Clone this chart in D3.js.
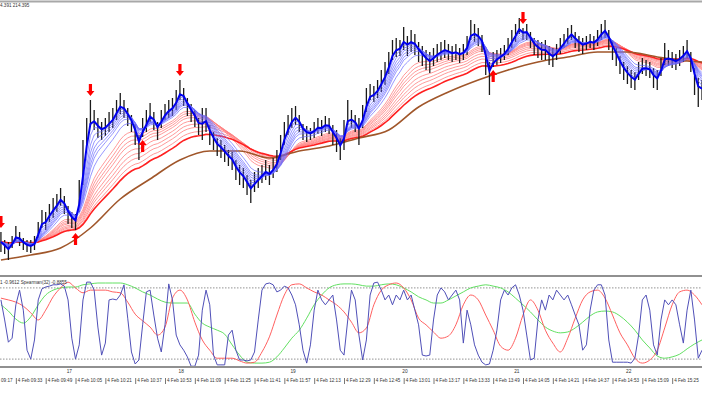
<!DOCTYPE html>
<html>
<head>
<meta charset="utf-8">
<script src="https://cdn.jsdelivr.net/npm/d3@7"></script>
<style>
body { margin: 0; background: #fff; }
svg { display: block; font-family: "Liberation Sans", Arial, sans-serif; }
</style>
</head>
<body>
<svg id="chart" width="702" height="395"></svg>
<script>
// 2-minute bars, 4 Feb, starting 09:25 (price in chart units)
var barStart = "09:25";
var barStep = 2;
var highs = [42,34,32,38,48,42,36,34,34,38, 52,64,62,70,76,80,86,78,68,62,
  60,94,134,156,174,164,156,152,156,162, 166,174,181,174,166,159,150,139,156,164,
  171,162,152,164,170,174,176,184,194,186, 176,170,164,156,166,166,149,142,136,134,
  129,124,122,114,109,106,99,94,102,106, 109,114,109,116,124,139,152,159,166,168,
  159,150,148,146,152,156,154,158,156,149, 144,136,154,174,164,159,156,169,186,190,
  188,194,204,212,222,234,236,234,247,238, 244,240,232,228,224,222,226,230,232,234,
  230,228,230,226,230,238,254,250,246,239, 224,212,222,224,226,229,236,244,250,256,
  246,250,242,236,234,232,234,228,226,230, 236,240,246,249,242,238,236,238,240,238,
  244,250,254,244,234,226,218,212,208,204, 202,212,216,214,212,206,204,216,231,224,
  222,220,224,228,234,222,206,196,194];
var lows = [22,20,14,26,32,28,24,22,21,24, 36,46,44,52,56,62,68,60,50,46,
  44,62,89,129,149,144,136,134,138,142, 146,154,160,156,148,142,129,114,137,142,
  152,144,134,146,154,156,158,164,174,168, 158,152,147,139,134,142,129,124,118,116,
  112,108,104,94,89,86,79,71,82,86, 91,94,89,96,102,114,129,139,146,149,
  142,134,132,134,136,140,138,142,140,129, 122,114,124,149,146,142,129,146,162,174,
  172,176,182,189,200,214,217,218,224,218, 222,219,212,208,204,201,208,212,214,216,
  214,212,214,211,214,219,234,232,228,222, 199,179,207,209,211,214,219,226,232,240,
  234,234,226,219,216,214,214,209,207,214, 220,226,230,234,226,222,220,224,226,224,
  228,234,236,224,214,208,200,194,190,186, 184,194,200,198,196,186,184,198,209,208,
  206,204,208,212,216,202,179,167,174];

// long moving average (brown), read at every 8th bar
var brownIdx = [0,8,16,24,32,40,48,56,64,72,80,88,96,104,112,120,128,136,144,152,160,168,176,184,188];
var brownVals = [14,19,26,46,75,95,114,123,123,116,123,128,136,144,167,182,194,204,212,217,222,222,217,213,212];

var fastPeriods = [3,4,5,6,7,8,10];
var slowPeriods = [14,16,18,20,23,26,29,33,37];

var downArrows = [0,24,48,140];
var upArrows = [20,38,132];

// oscillator: blue every bar, red / green every 2nd bar
var blueOsc = [.53,.08,-.42,-.33,.42,.75,.30,-.6,-.8,-.37,
  .53,.78,.82,.84,.87,.87,.89,.84,.53,-.33, -.8,-.48,.53,.93,.93,.75,-.08,-.71,-.44,.53,
  .55,.53,.64,.87,.12,-.64,-.91,-.82,-.03,.71, .75,.19,-.33,-.64,-.03,.89,.53,-.26,-.48,-.6,
  -.75,-.96,-.96,-.71,.30,.75,.42,-.71,-.93,-.93, -.93,-.26,-.15,-.6,-.82,-.82,-.84,-.82,-.64,.08,
  .75,.89,.91,.87,.71,.75,.84,.8,.64,.42, -.03,-.6,-.89,-.48,.30,.75,.53,.42,.53,.64,
  .08,-.6,-.71,.08,.75,.53,-.26,-.82,-.37,.64, .91,.93,.75,.53,.64,.42,.64,.53,.75,.53,
  .64,.30,-.03,-.71,-.73,-.71,.08,.64,.8,.71, .53,.64,.75,.53,-.44,.30,-.03,-.48,-.71,-.87,
  -.93,-.91,-.6,-.15,.53,.75,.64,.8,.87,.64, .30,-.26,-.82,-.78,.08,.53,.30,.64,.53,.75,
  .64,.53,.64,.42,.19,-.03,-.6,-.48,.30,.75, .87,.87,.64,-.37,-.87,-.87,-.87,-.87,-.87,-.89,
  -.78,-.26,.53,.64,.30,-.48,-.71,.08,.53,.42, .53,.42,-.03,-.44,.30,.75,.08,-.78,-.6];
var redOsc = [.57,.53,.48,.39,.24,.08,.30,.60,.80,.93, .80,.69,.75,.75,.75,.71,.69,.48,.21,.06,
  -.08,-.26,-.08,.57,.75,.53,.03,-.37,-.6,-.78, -.78,-.78,-.84,-.89,-.87,-.64,-.30,.19,.64,.87,
  .89,.80,.71,.64,.53,.42,.26,.03,-.21,-.10, .42,.75,.87,.91,.80,.53,.12,-.03,-.19,-.33,
  -.28,-.03,.42,.64,.53,.19,-.15,-.51,-.6,-.33, .19,.53,.30,-.15,-.44,-.64,-.33,.12,.53,.71,
  .75,.57,.19,-.21,-.48,-.78,-.89,-.82,-.6,-.10, .42,.71,.75,.64,.42];
var greenOsc = [.42,.28,.10,.01,.15,.42,.64,.75,.80,.82, .82,.87,.89,.91,.91,.91,.91,.87,.80,.71,
  .64,.55,.48,.46,.46,.46,.21,.01,-.08,-.15, -.24,-.48,-.71,-.87,-.89,-.89,-.87,-.75,-.55,-.33,
  -.15,.12,.42,.64,.80,.87,.89,.89,.87,.84, .84,.87,.89,.87,.80,.71,.60,.53,.46,.46,
  .53,.62,.71,.80,.84,.87,.84,.80,.71,.57, .42,.26,.08,-.08,-.17,-.21,-.19,-.10,.03,.17,
  .26,.28,.26,.17,.03,-.15,-.37,-.55,-.73,-.78, -.75,-.69,-.57,-.46,-.37];
var oscLevels = [0.8, -0.8];

var timeTicks = ["09:17","09:33","09:49","10:05","10:21","10:37","10:53","11:09","11:25","11:41",
  "11:57","12:13","12:29","12:45","13:01","13:17","13:33","13:49","14:05","14:21","14:37",
  "14:53","15:09","15:25"];
var hourTimes = ["10:00","11:00","12:00","13:00","14:00","15:00"];
var hourLabels = ["17","18","19","20","21","22"];

var header = "4.391 214.395";
var oscHeader = "1 -0.9612  Spearman(32) -0.8855";

function tm(s) {
  var p = s.split(":");
  return new Date(2025, 1, 4, +p[0], +p[1], +(p[2] || 0));
}
function barTime(i) {
  return new Date(tm(barStart).getTime() + i * barStep * 60000);
}
function ema(src, n) {
  var a = 2 / (n + 1), v = src[0];
  return src.map(function(p) { v = v + a * (p - v); return v; });
}

var W = 702;
var svg = d3.select("#chart");

var x = d3.scaleTime().domain([tm("09:24:30"), tm("15:41:00")]).range([0, W]);
var y = d3.scaleLinear().domain([0, 271]).range([274, 3]);
var yo = d3.scaleLinear().domain([-1, 1]).range([368, 279]);

svg.append("defs").append("clipPath").attr("id", "mainClip")
  .append("rect").attr("x", 0).attr("y", 3).attr("width", W).attr("height", 271);
svg.append("defs").append("clipPath").attr("id", "oscClip")
  .append("rect").attr("x", 0).attr("y", 278).attr("width", W).attr("height", 88);

var mid = highs.map(function(h, i) { return (h + lows[i]) / 2; });

var main = svg.append("g").attr("clip-path", "url(#mainClip)");
var priceLine = d3.line()
  .x(function(d, i) { return x(barTime(i)); })
  .y(function(d) { return y(d); });

// slow (red) fan
slowPeriods.forEach(function(n, k) {
  var last = k === slowPeriods.length - 1;
  main.append("path").datum(ema(mid, n))
    .attr("fill", "none")
    .attr("stroke", last ? "#ff2020" : "#ff8080")
    .attr("stroke-width", last ? 1.6 : 0.8)
    .attr("d", priceLine);
});

// brown long MA
main.append("path").datum(brownIdx)
  .attr("fill", "none").attr("stroke", "#a0562a").attr("stroke-width", 1.6)
  .attr("d", d3.line()
    .x(function(d) { return x(barTime(d)); })
    .y(function(d, i) { return y(brownVals[i]); })
    .curve(d3.curveMonotoneX));

// price bars
main.selectAll("line.bar").data(highs).enter().append("line")
  .attr("class", "bar")
  .attr("x1", function(d, i) { return x(barTime(i)); })
  .attr("x2", function(d, i) { return x(barTime(i)); })
  .attr("y1", function(d) { return y(d); })
  .attr("y2", function(d, i) { return y(lows[i]); })
  .attr("stroke", "#1a1a1a").attr("stroke-width", 1.3);

// fast (blue) fan
fastPeriods.forEach(function(n) {
  main.append("path").datum(ema(mid, n))
    .attr("fill", "none").attr("stroke", "#6a6aff").attr("stroke-width", 0.7)
    .attr("d", priceLine);
});
main.append("path").datum(ema(mid, 2))
  .attr("fill", "none").attr("stroke", "#0000ee").attr("stroke-width", 2)
  .attr("d", priceLine);

// signal arrows
function arrow(cx, tip, dir) {
  var p = d3.path();
  p.moveTo(cx, tip);
  p.lineTo(cx - 4, tip - 5 * dir);
  p.lineTo(cx - 1.6, tip - 5 * dir);
  p.lineTo(cx - 1.6, tip - 12 * dir);
  p.lineTo(cx + 1.6, tip - 12 * dir);
  p.lineTo(cx + 1.6, tip - 5 * dir);
  p.lineTo(cx + 4, tip - 5 * dir);
  p.closePath();
  return p.toString();
}
main.selectAll("path.dn").data(downArrows).enter().append("path")
  .attr("class", "dn").attr("fill", "#ff0000")
  .attr("d", function(i) { return arrow(x(barTime(i)), y(highs[i]) - 4, 1); });
main.selectAll("path.up").data(upArrows).enter().append("path")
  .attr("class", "up").attr("fill", "#ff0000")
  .attr("d", function(i) { return arrow(x(barTime(i)), y(lows[i]) + 3, -1); });

// panel frames
svg.append("line").attr("x1", 0).attr("x2", W).attr("y1", 1.5).attr("y2", 1.5)
  .attr("stroke", "#a8a8a8").attr("stroke-width", 2);
svg.append("line").attr("x1", 0).attr("x2", W).attr("y1", 276).attr("y2", 276)
  .attr("stroke", "#909090").attr("stroke-width", 2);
svg.append("line").attr("x1", 0).attr("x2", W).attr("y1", 367).attr("y2", 367)
  .attr("stroke", "#909090").attr("stroke-width", 2);

svg.append("text").attr("x", 0).attr("y", 7).attr("font-size", 4.6).attr("fill", "#333").text(header);

// oscillator panel
var osc = svg.append("g").attr("clip-path", "url(#oscClip)");
osc.selectAll("line.lvl").data(oscLevels).enter().append("line")
  .attr("x1", 0).attr("x2", W)
  .attr("y1", function(d) { return yo(d); }).attr("y2", function(d) { return yo(d); })
  .attr("stroke", "#777").attr("stroke-width", 0.8).attr("stroke-dasharray", "1.5,1.5");

var every2 = d3.line()
  .x(function(d, k) { return x(barTime(k * 2)); })
  .y(function(d) { return yo(d); })
  .curve(d3.curveMonotoneX);
osc.append("path").datum(greenOsc).attr("fill", "none")
  .attr("stroke", "#62e062").attr("stroke-width", 1).attr("d", every2);
osc.append("path").datum(redOsc).attr("fill", "none")
  .attr("stroke", "#ff6060").attr("stroke-width", 1).attr("d", every2);
osc.append("path").datum(blueOsc).attr("fill", "none")
  .attr("stroke", "#5050b8").attr("stroke-width", 1)
  .attr("d", d3.line()
    .x(function(d, i) { return x(barTime(i)); })
    .y(function(d) { return yo(d); }));

svg.append("text").attr("x", 0).attr("y", 284).attr("font-size", 4.6).attr("fill", "#333").text(oscHeader);

// hour row
var hourAxis = d3.axisBottom(x)
  .tickValues(hourTimes.map(tm))
  .tickSize(0)
  .tickFormat(function(d, i) { return hourLabels[i]; });
var hg = svg.append("g").attr("transform", "translate(0,368)").call(hourAxis);
hg.select(".domain").remove();
hg.selectAll("text").attr("font-size", 4.8).attr("fill", "#333")
  .attr("text-anchor", "start").attr("x", 0).attr("y", 2).attr("dy", "0.71em");

// time row (first label runs off the left edge, as in the original)
var timeAxis = d3.axisBottom(x)
  .tickValues(timeTicks.map(tm))
  .tickSize(6)
  .tickFormat(function(d, i) { return "4 Feb " + timeTicks[i]; });
var tg = svg.append("g").attr("transform", "translate(0,378)").call(timeAxis);
tg.select(".domain").remove();
tg.selectAll(".tick line").attr("stroke", "#555").attr("stroke-width", 0.8);
tg.selectAll("text").attr("font-size", 4.6).attr("fill", "#333")
  .attr("text-anchor", "start").attr("x", 1.5).attr("y", 1.2).attr("dy", "0.71em");
</script>
</body>
</html>
